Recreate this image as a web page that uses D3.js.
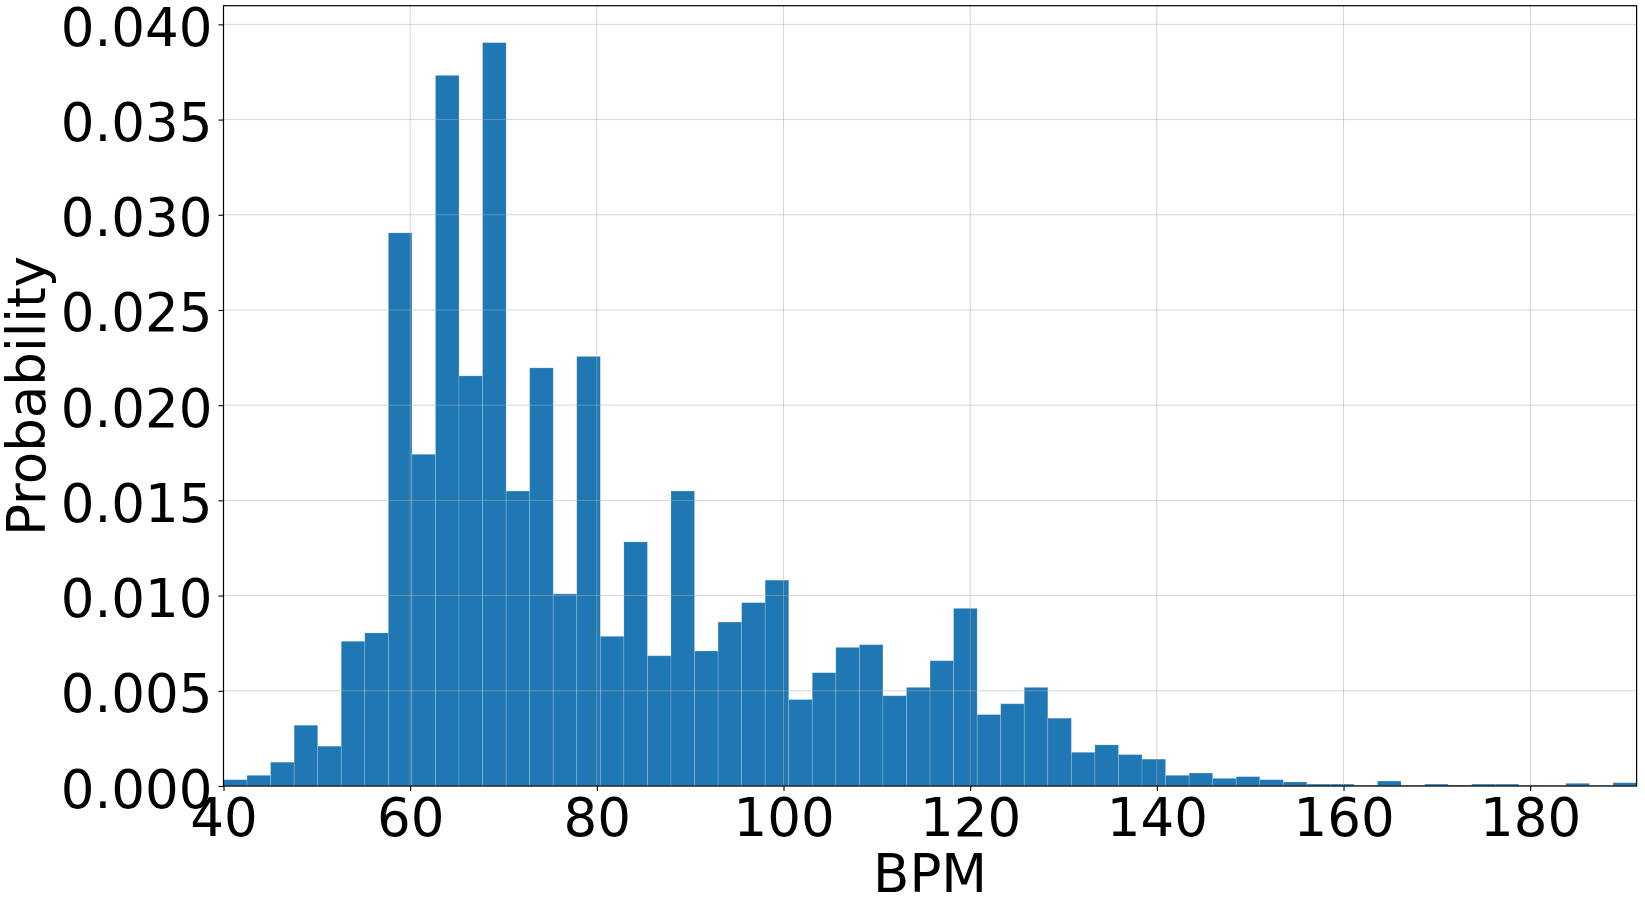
<!DOCTYPE html>
<html>
<head>
<meta charset="utf-8">
<script src="https://cdn.jsdelivr.net/npm/d3@7"></script>
<style>
  html, body { margin: 0; padding: 0; background: #fff; }
  svg { display: block; }
  text { font-family: "DejaVu Sans", sans-serif; fill: #000; }
</style>
</head>
<body>
<svg id="chart" width="1645" height="898"></svg>
<script>
// ---- data ----
const binStart = 40;
const binEnd = 191.4;
const probabilities = [
  0.00033, 0.00056, 0.00125, 0.00319, 0.00209, 0.00760, 0.00804, 0.02905, 0.01742, 0.03732,
  0.02154, 0.03904, 0.01549, 0.02196, 0.01009, 0.02256, 0.00786, 0.01282, 0.00684, 0.01549,
  0.00709, 0.00861, 0.00963, 0.01081, 0.00454, 0.00595, 0.00728, 0.00742, 0.00474, 0.00518,
  0.00658, 0.00933, 0.00375, 0.00432, 0.00518, 0.00356, 0.00177, 0.00216, 0.00165, 0.00141,
  0.00056, 0.00068, 0.00040, 0.00049, 0.00033, 0.00021, 0.00010, 0.00010, 0.00003, 0.00026,
  0.00003, 0.00010, 0.00005, 0.00010, 0.00010, 0.00003, 0.00002, 0.00014, 0.00003, 0.00017
];
const xTicks = [40, 60, 80, 100, 120, 140, 160, 180];
const yTicks = [0, 0.005, 0.010, 0.015, 0.020, 0.025, 0.030, 0.035, 0.040];
const xLabel = "BPM";
const yLabel = "Probability";

// ---- layout ----
const W = 1645, H = 898;
const m = { left: 223.5, right: W - 1636.6, top: 5.7, bottom: H - 786 };
const iw = W - m.left - m.right, ih = H - m.top - m.bottom;
const FS = 53;

const svg = d3.select("#chart");
const g = svg.append("g").attr("transform", `translate(${m.left},${m.top})`);

const x = d3.scaleLinear().domain([binStart, binEnd]).range([0, iw]);
const y = d3.scaleLinear().domain([0, 0.04098]).range([ih, 0]);

const binW = (binEnd - binStart) / probabilities.length;
const bins = probabilities.map((p, i) => ({ x0: binStart + i * binW, x1: binStart + (i + 1) * binW, p }));

// bars
g.append("g").selectAll("rect").data(bins).join("rect")
  .attr("x", d => x(d.x0))
  .attr("width", d => x(d.x1) - x(d.x0))
  .attr("y", d => y(d.p))
  .attr("height", d => y(0) - y(d.p))
  .attr("fill", "#1f77b4")
  .attr("stroke", "rgba(255,255,255,0.22)")
  .attr("stroke-width", 0.8);

// grid (drawn over bars, semi-transparent)
const grid = g.append("g").attr("stroke", "#b0b0b0").attr("stroke-opacity", 0.5).attr("stroke-width", 1);
grid.selectAll(".gx").data(xTicks).join("line")
  .attr("x1", d => x(d)).attr("x2", d => x(d)).attr("y1", 0).attr("y2", ih);
grid.selectAll(".gy").data(yTicks).join("line")
  .attr("x1", 0).attr("x2", iw).attr("y1", d => y(d)).attr("y2", d => y(d));

// axes
const xAxis = d3.axisBottom(x).tickValues(xTicks).tickFormat(d3.format("d")).tickSize(5).tickPadding(5);
const yAxis = d3.axisLeft(y).tickValues(yTicks).tickFormat(d3.format(".3f")).tickSize(5).tickPadding(5);

const gx = g.append("g").attr("transform", `translate(0,${ih})`).call(xAxis);
gx.select(".domain").remove();
gx.selectAll("line").attr("stroke", "#000").attr("stroke-width", 1.1);
gx.selectAll("text").attr("font-size", FS).attr("font-family", "DejaVu Sans").attr("fill", "#000")
  .attr("dy", null).attr("y", 50);

const gy = g.append("g").call(yAxis);
gy.select(".domain").remove();
gy.selectAll("line").attr("stroke", "#000").attr("stroke-width", 1.1);
gy.selectAll("text").attr("font-size", FS).attr("font-family", "DejaVu Sans").attr("fill", "#000")
  .attr("dy", null).attr("x", -11).attr("y", 21);

// frame
g.append("rect").attr("x", 0).attr("y", 0).attr("width", iw).attr("height", ih)
  .attr("fill", "none").attr("stroke", "#000").attr("stroke-width", 1.2);

// labels
svg.append("text").attr("x", m.left + iw / 2).attr("y", 892)
  .attr("text-anchor", "middle").attr("font-size", FS).text(xLabel);
svg.append("text").attr("transform", `translate(45,${m.top + ih / 2}) rotate(-90)`)
  .attr("text-anchor", "middle").attr("font-size", FS).text(yLabel);
</script>
</body>
</html>
